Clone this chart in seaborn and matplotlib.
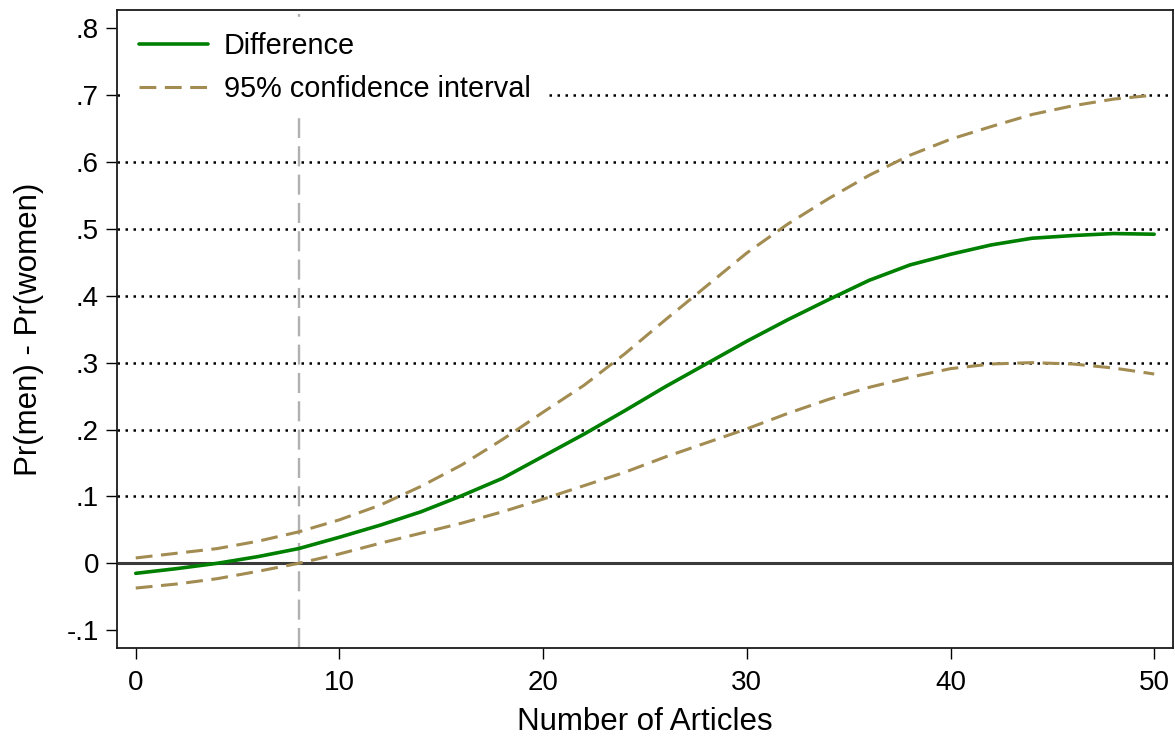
import numpy as np
import pandas as pd
import matplotlib
matplotlib.use("Agg")
import matplotlib.pyplot as plt
import seaborn as sns
from matplotlib.ticker import FixedLocator, FuncFormatter

# Predicted difference in probability (men minus women) by number of articles
articles = [0, 2, 4, 6, 8, 10, 12, 14, 16, 18, 20, 22, 24, 26, 28, 30,
            32, 34, 36, 38, 40, 42, 44, 46, 48, 50]
difference = [-0.015, -0.008, 0.000, 0.010, 0.022, 0.039, 0.057, 0.077,
              0.101, 0.127, 0.160, 0.193, 0.228, 0.264, 0.298, 0.332,
              0.364, 0.394, 0.423, 0.446, 0.462, 0.476, 0.486, 0.490,
              0.493, 0.492]
ci_upper = [0.008, 0.015, 0.022, 0.033, 0.047, 0.065, 0.087, 0.115,
            0.147, 0.185, 0.226, 0.266, 0.313, 0.364, 0.414, 0.464,
            0.507, 0.545, 0.580, 0.610, 0.634, 0.653, 0.671, 0.684,
            0.694, 0.700]
ci_lower = [-0.037, -0.031, -0.023, -0.012, 0.000, 0.014, 0.030, 0.045,
            0.060, 0.077, 0.096, 0.116, 0.136, 0.159, 0.180, 0.201,
            0.224, 0.245, 0.263, 0.278, 0.291, 0.298, 0.300, 0.298,
            0.292, 0.283]

x_ticks = [0, 10, 20, 30, 40, 50]
y_ticks = [-0.1, 0.0, 0.1, 0.2, 0.3, 0.4, 0.5, 0.6, 0.7, 0.8]
grid_levels = [0.1, 0.2, 0.3, 0.4, 0.5, 0.6, 0.7]
threshold = 8

df = pd.DataFrame({
    "articles": articles,
    "difference": difference,
    "upper": ci_upper,
    "lower": ci_lower,
})

sns.set_style("white")
plt.rcParams["font.family"] = ["Liberation Sans", "DejaVu Sans"]
plt.rcParams["text.color"] = "black"

GREEN = "#008000"
SAND = "#a38c52"

fig = plt.figure(figsize=(11.75, 7.37), dpi=100)
ax = fig.add_axes([0.0996, 0.1208, 0.8983, 0.8656])

# dotted reference lines and the solid zero line
for lvl in grid_levels:
    ax.axhline(lvl, color="black", lw=1.8, linestyle=(0, (1, 2.2)), zorder=1)
ax.axhline(0, color="#3a3a3a", lw=2.2, zorder=1.5)
ax.axvline(threshold, ymax=0.993, color="#b0b0b0", lw=1.7,
           linestyle=(0, (8.5, 3.5)), zorder=1.2)

sns.lineplot(data=df, x="articles", y="difference", color=GREEN, lw=2.6,
             ax=ax, label="Difference", zorder=3)
sns.lineplot(data=df, x="articles", y="upper", color=SAND, lw=2.2,
             linestyle=(0, (5.5, 2.8)), ax=ax, label="95% confidence interval",
             zorder=2.5)
sns.lineplot(data=df, x="articles", y="lower", color=SAND, lw=2.2,
             linestyle=(0, (5.5, 2.8)), ax=ax, label="_nolegend_", zorder=2.5)

ax.set_xlim(-0.92, 50.9)
ax.set_ylim(-0.1266, 0.8272)
ax.xaxis.set_major_locator(FixedLocator(x_ticks))
ax.yaxis.set_major_locator(FixedLocator(y_ticks))


def stata_fmt(v, pos):
    if abs(v) < 1e-9:
        return "0"
    s = f"{v:.1f}"
    return s.replace("0.", ".")


ax.yaxis.set_major_formatter(FuncFormatter(stata_fmt))
ax.tick_params(axis="both", direction="out", length=8, width=1.0,
               color="black", labelsize=20, labelcolor="black")
ax.tick_params(axis="x", pad=8)
ax.tick_params(axis="y", pad=5)
ax.tick_params(bottom=True, left=True)

for sp in ax.spines.values():
    sp.set_visible(True)
    sp.set_color("#1a1a1a")
    sp.set_linewidth(1.3)

ax.set_xlabel("Number of Articles", fontsize=22.5, labelpad=7.5, color="black")
ax.set_ylabel("Pr(men) - Pr(women)", fontsize=22.5, labelpad=16, color="black")

leg = ax.legend(loc="upper left", fontsize=20.8, frameon=True, fancybox=False,
                handlelength=2.4, handletextpad=0.55, labelspacing=0.52,
                borderpad=0.5, borderaxespad=0.25)
leg.get_frame().set_facecolor("white")
leg.get_frame().set_edgecolor("white")
leg.get_frame().set_alpha(1.0)
leg.set_zorder(5)
for t in leg.get_texts():
    t.set_color("black")

fig.savefig("out.png", dpi=100)
